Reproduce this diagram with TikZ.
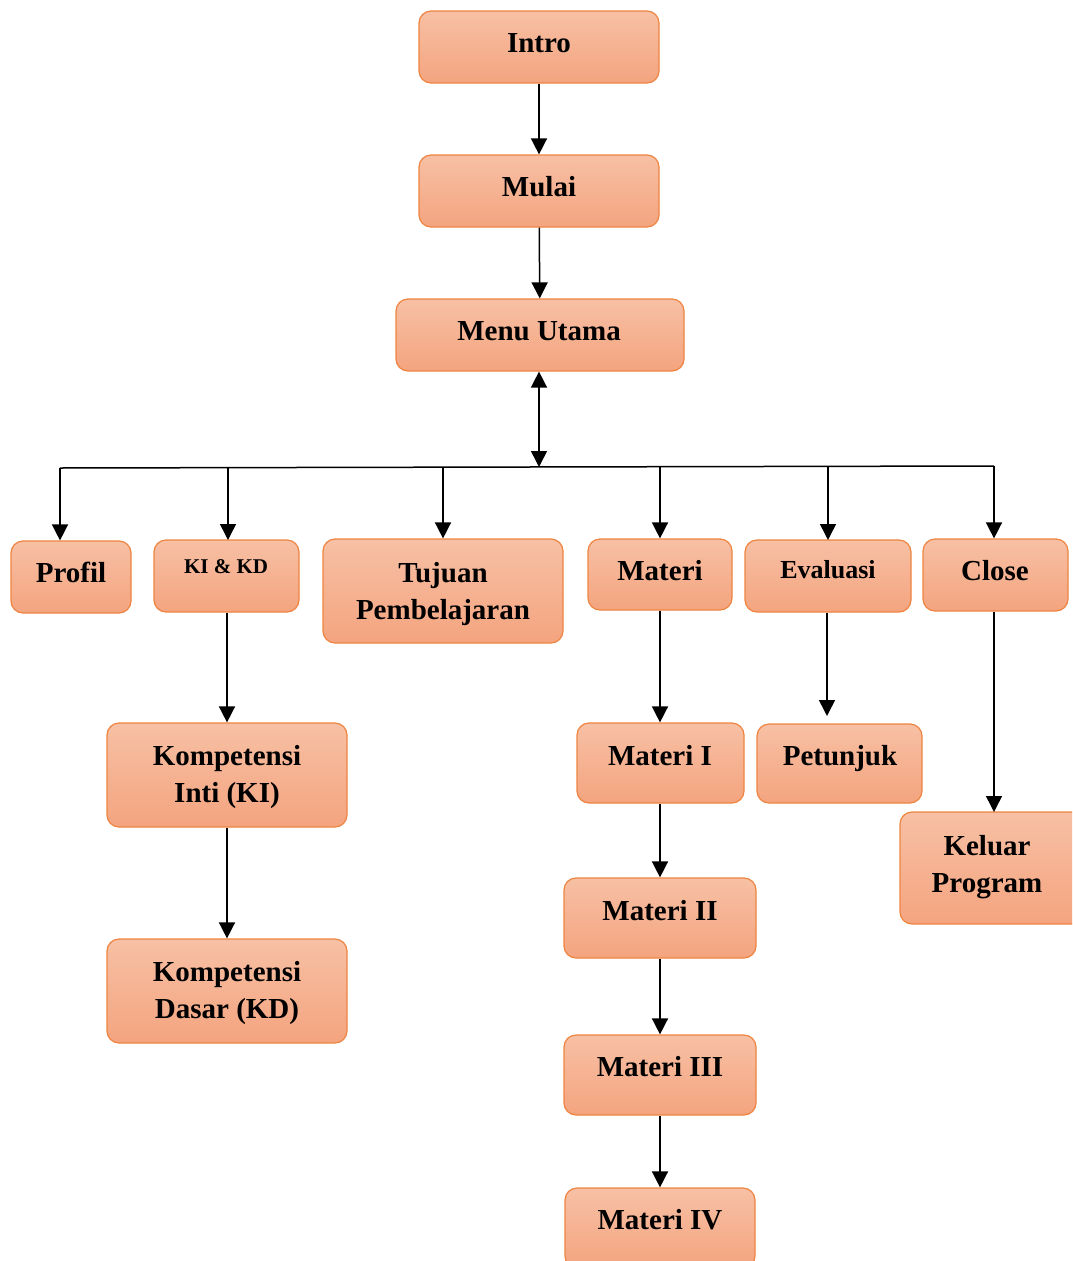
\documentclass[tikz,border=0pt]{standalone}
\usepackage{fontspec}
\setmainfont{Liberation Serif}
\usetikzlibrary{arrows.meta}
\definecolor{boxtop}{HTML}{F7C0A4}
\definecolor{boxbot}{HTML}{F4A47F}
\definecolor{boxline}{HTML}{EE8440}
\tikzset{
  box/.style={draw=boxline, line width=1.2pt, rounded corners=12pt,
    top color=boxtop, bottom color=boxbot, inner sep=0pt},
  txt/.style={font=\fontsize{29}{37}\selectfont\bfseries, anchor=base, align=center, inner sep=0pt},
  conn/.style={line width=1.5pt, black},
  arr/.style={conn, -{Triangle[length=16pt,width=16pt]}},
  darr/.style={conn, {Triangle[length=16pt,width=16pt]}-{Triangle[length=16pt,width=16pt]}}
}
\begin{document}
\begin{tikzpicture}[x=1pt,y=-1pt]
\clip (0,0) rectangle (1072,1261);
\useasboundingbox (0,0) rectangle (1072,1261);
% boxes
\node[box, minimum width=240pt, minimum height=72pt] (intro) at (539,47) {};
\node[box, minimum width=240pt, minimum height=72pt] (mulai) at (539,191) {};
\node[box, minimum width=288pt, minimum height=72pt] (menu) at (540,335) {};
\node[box, minimum width=120pt, minimum height=72pt] (profil) at (71,577) {};
\node[box, minimum width=145pt, minimum height=72pt] (kikd) at (226.5,576) {};
\node[box, minimum width=240pt, minimum height=104pt] (tujuan) at (443,591) {};
\node[box, minimum width=144pt, minimum height=71pt] (materi) at (660,574.5) {};
\node[box, minimum width=166pt, minimum height=72pt] (eval) at (828,576) {};
\node[box, minimum width=145pt, minimum height=72pt] (close) at (995.5,575) {};
\node[box, minimum width=240pt, minimum height=104pt] (ki) at (227,775) {};
\node[box, minimum width=240pt, minimum height=104pt] (kd) at (227,991) {};
\node[box, minimum width=167pt, minimum height=80pt] (m1) at (660.5,763) {};
\node[box, minimum width=165pt, minimum height=79pt] (petunjuk) at (839.5,763.5) {};
\node[box, minimum width=192pt, minimum height=80pt] (m2) at (660,918) {};
\node[box, minimum width=192pt, minimum height=80pt] (m3) at (660,1075) {};
\node[box, minimum width=190pt, minimum height=80pt] (m4) at (660,1228) {};
\node[box, minimum width=190pt, minimum height=112pt] (keluar) at (995,868) {};
% texts
\node[txt] (tintro) at (539,52) {Intro};
\node[txt] (tmulai) at (539,196) {Mulai};
\node[txt] (tmenu) at (539,340) {Menu Utama};
\node[txt] (tprofil) at (71,582) {Profil};
\node[txt, font=\fontsize{21}{25}\selectfont\bfseries] (tkikd) at (226,573) {KI \& KD};
\node[txt] (ttujuan) at (443,619) {Tujuan\\Pembelajaran};
\node[txt] (tmateri) at (660,580) {Materi};
\node[txt, font=\fontsize{26}{32}\selectfont\bfseries] (teval) at (828,578) {Evaluasi};
\node[txt] (tclose) at (995,580) {Close};
\node[txt] (tki) at (227,802) {Kompetensi\\Inti (KI)};
\node[txt] (tkd) at (227,1018) {Kompetensi\\Dasar (KD)};
\node[txt] (tm1) at (660,765) {Materi I};
\node[txt] (tpet) at (840,765) {Petunjuk};
\node[txt] (tm2) at (660,920) {Materi II};
\node[txt] (tm3) at (660,1076) {Materi III};
\node[txt] (tm4) at (660,1229) {Materi IV};
\node[txt] (tkel) at (987,892) {Keluar\\Program};
% connectors
\draw[arr] (intro) -- (mulai);
\draw[arr] (mulai) -- (menu);
\coordinate (bus) at (539,467);
\coordinate (bl) at (60,468);
\coordinate (br) at (994,466);
\draw[darr] (menu.south -| bus) -- (bus);
\draw[conn] (bl) -- (br);
\draw[arr] (bl) -- (bl |- profil.north);
\draw[arr] (228,467) -- (228,540);
\draw[arr] (443,467) -- (tujuan.north);
\draw[arr] (660,467) -- (materi.north);
\draw[arr] (828,467) -- (828,540);
\draw[arr] (br) -- (br |- close.north);
\draw[arr] (kikd.south -| 227,0) -- (ki.north);
\draw[arr] (ki) -- (kd);
\draw[arr] (materi) -- (materi |- m1.north);
\draw[arr] (m1.south -| materi) -- (materi |- m2.north);
\draw[arr] (m2) -- (m3);
\draw[arr] (m3) -- (m4);
\draw[arr] (eval.south -| 827,0) -- (827,716);
\draw[arr] (close.south -| 994,0) -- (994,812);
\end{tikzpicture}
\end{document}
